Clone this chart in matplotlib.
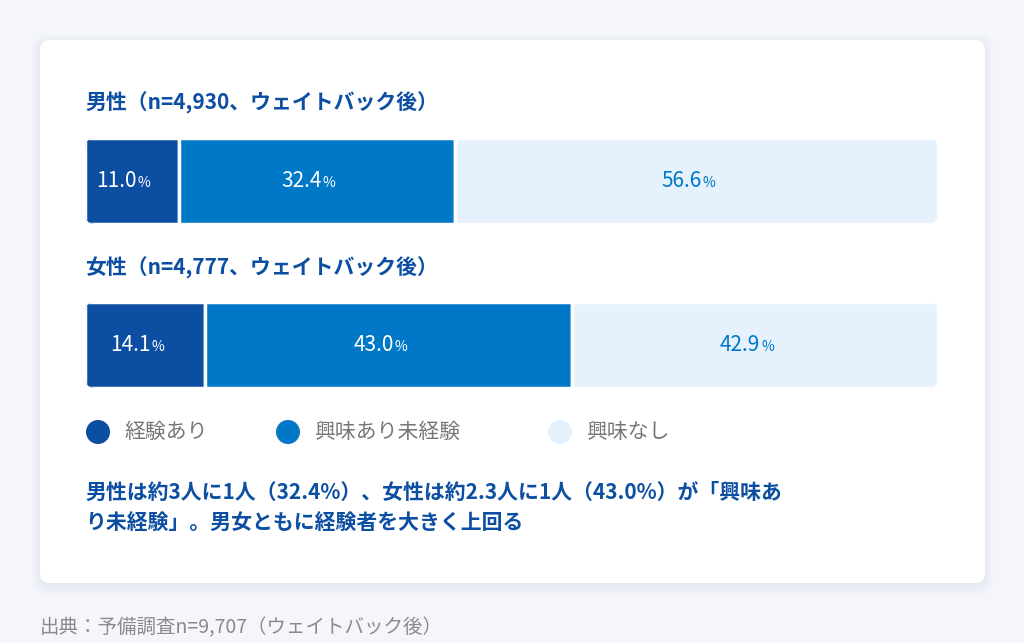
import matplotlib.pyplot as plt
from matplotlib.patches import FancyBboxPatch, Circle

plt.rcParams['font.family'] = ['Noto Sans CJK JP', 'DejaVu Sans']

groups = ['男性（n=4,930、ウェイトバック後）', '女性（n=4,777、ウェイトバック後）']
categories = ['経験あり', '興味あり未経験', '興味なし']
values = [[11.0, 32.4, 56.6], [14.1, 43.0, 42.9]]
colors = ['#0b4ea2', '#0078c8', '#e5f1fc']
text_colors = ['white', 'white', '#0078c8']
summary = ['男性は約3人に1人（32.4%）、女性は約2.3人に1人（43.0%）が「興味あ',
           'り未経験」。男女ともに経験者を大きく上回る']
source = '出典：予備調査n=9,707（ウェイトバック後）'

W, H = 1024, 643
fig = plt.figure(figsize=(W / 100, H / 100), dpi=100)
fig.patch.set_facecolor('#f4f6fb')
bg = fig.add_axes([0, 0, 1, 1])
bg.set_xlim(0, W)
bg.set_ylim(H, 0)
bg.axis('off')

# card with soft shadow
for i, a in enumerate([0.03, 0.03, 0.03, 0.04]):
    d = 8 - i * 2
    bg.add_patch(FancyBboxPatch((40 - d, 40 - d + 3), 945 + 2 * d, 543 + 2 * d,
                                boxstyle='round,pad=0,rounding_size=14',
                                fc='#9aa8d8', ec='none', alpha=a))
bg.add_patch(FancyBboxPatch((40, 40), 945, 543, boxstyle='round,pad=0,rounding_size=10',
                            fc='white', ec='none'))

title_y = [103, 268]
for g, y in zip(groups, title_y):
    bg.text(85, y, g, fontsize=15, fontweight='bold', color='#0b4ea2', va='center')

# bars
ax = fig.add_axes([85 / W, 1 - 388 / H, (938 - 85) / W, (388 - 138) / H])
ax.set_xlim(0, 100)
ax.set_ylim(388, 138)
ax.axis('off')
bar_y = [181, 345]
bar_h = 86
for vals, yc in zip(values, bar_y):
    clip = FancyBboxPatch((0, yc - bar_h / 2), 100, bar_h,
                          boxstyle='round,pad=0,rounding_size=1.2', mutation_aspect=8.5,
                          fc='none', ec='none', transform=ax.transData)
    ax.add_patch(clip)
    left = 0
    for v, c, tc in zip(vals, colors, text_colors):
        b = ax.barh(yc, v, left=left, height=bar_h, color=c, edgecolor='white', linewidth=2.5)
        for p in b:
            p.set_clip_path(clip)
        cx = left + v / 2
        ax.text(cx + 0.6, yc, f'{v:.1f}', fontsize=15, color=tc, ha='right', va='center')
        ax.text(cx + 0.7, yc + 2, '%', fontsize=10, color=tc, ha='left', va='center')
        left += v

# legend
leg_x = [98, 288, 560]
for x, lab, c in zip(leg_x, categories, colors):
    bg.add_patch(Circle((x, 432), 12, fc=c, ec='none'))
    bg.text(x + 26, 432, lab, fontsize=15, color='#777777', va='center')

for i, s in enumerate(summary):
    bg.text(85, 492 + i * 31, s, fontsize=15, fontweight='bold', color='#0b4ea2', va='center')

bg.text(40, 628, source, fontsize=14, color='#8a8a8a', va='center')

fig.savefig('out.png', dpi=100, facecolor=fig.get_facecolor())
